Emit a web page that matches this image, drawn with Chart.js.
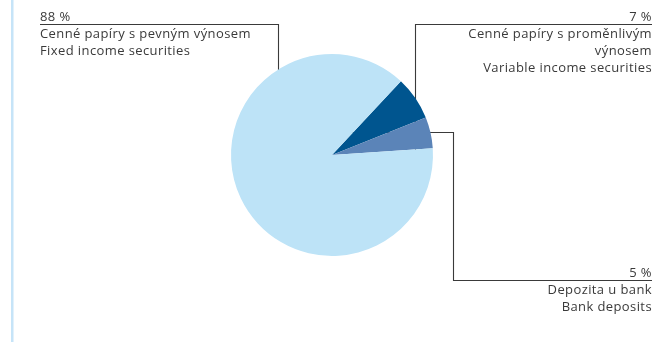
<!DOCTYPE html>
<html>
<head>
<meta charset="utf-8">
<script src="https://cdn.jsdelivr.net/npm/chart.js@4"></script>
<style>
  html, body { margin: 0; padding: 0; background: #fff; }
  #wrap { position: relative; width: 667px; height: 342px; }
</style>
</head>
<body>
<div id="wrap"><canvas id="chartPortfolio" width="667" height="342"></canvas></div>
<script>
// -- Struktura portfolia --
const podily = [7, 5, 88];
const nazvyCz = [['Cenné papíry s proměnlivým', 'výnosem'], ['Depozita u bank'], ['Cenné papíry s pevným výnosem']];
const nazvyEn = ['Variable income securities', 'Bank deposits', 'Fixed income securities'];
const barvy = ['#00558f', '#5b84b8', '#bde3f7'];

const FONT = '13px "Open Sans", sans-serif';
const TEXT = '#3a3a3a';
const LINE = '#3a3a3a';

function popisky(ctx, lines, x, y, align) {
  ctx.textAlign = align;
  lines.forEach((t, i) => ctx.fillText(t, x, y + i * 17));
}

const odkazy = {
  id: 'odkazy',
  beforeDraw(chart) {
    const ctx = chart.ctx;
    ctx.save();
    ctx.fillStyle = '#c6e4f8';
    ctx.fillRect(11, 0, 2.5, chart.height);
    ctx.restore();
  },
  beforeDatasetsDraw(chart) {
    const ctx = chart.ctx;
    const arc = chart.getDatasetMeta(0).data[0];
    const cx = arc.x, cy = arc.y;
    ctx.save();
    ctx.strokeStyle = LINE;
    ctx.lineWidth = 1.1;
    ctx.beginPath();
    // 88 %
    ctx.moveTo(40, 24.5); ctx.lineTo(278.5, 24.5); ctx.lineTo(278.5, cy);
    // 7 %
    ctx.moveTo(652, 24.5); ctx.lineTo(415.5, 24.5); ctx.lineTo(415.5, cy);
    // 5 %
    ctx.moveTo(cx, 132.5); ctx.lineTo(453.5, 132.5); ctx.lineTo(453.5, 280.5); ctx.lineTo(652, 280.5);
    ctx.stroke();
    ctx.restore();
  },
  afterDraw(chart) {
    const ctx = chart.ctx;
    ctx.save();
    ctx.font = FONT;
    ctx.letterSpacing = '0.4px';
    ctx.fillStyle = TEXT;
    ctx.textBaseline = 'alphabetic';
    popisky(ctx, [podily[2] + ' %', ...nazvyCz[2], nazvyEn[2]], 40, 21, 'left');
    popisky(ctx, [podily[0] + ' %', ...nazvyCz[0], nazvyEn[0]], 652, 21, 'right');
    popisky(ctx, [podily[1] + ' %', ...nazvyCz[1], nazvyEn[1]], 652, 277, 'right');
    ctx.restore();
  }
};

new Chart(document.getElementById('chartPortfolio').getContext('2d'), {
  type: 'pie',
  data: {
    labels: nazvyEn,
    datasets: [{
      data: podily,
      backgroundColor: barvy,
      borderWidth: 0
    }]
  },
  options: {
    responsive: false,
    animation: false,
    rotation: 43,
    layout: { padding: { left: 231, right: 234, top: 54, bottom: 86 } },
    plugins: { legend: { display: false }, tooltip: { enabled: false } }
  },
  plugins: [odkazy]
});
</script>
</body>
</html>
